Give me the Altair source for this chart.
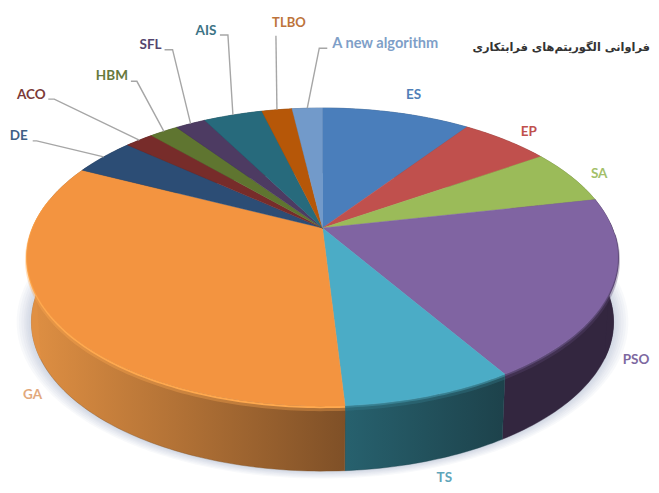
import math
import altair as alt

# ---- chart values (percent of the pie)
names = ["ES", "EP", "SA", "PSO", "TS", "GA", "DE", "ACO", "HBM", "SFL", "AIS", "TLBO", "A new algorithm"]
values = [9.8, 5.9, 6.0, 19.5, 7.8, 33.2, 4.1, 1.9, 1.9, 2.0, 3.9, 2.0, 2.0]
top_colors = ["#4a7ebb", "#c0504d", "#9bbb59", "#8064a2", "#4bacc6", "#f39440", "#2c4d75",
              "#772c2a", "#5f7530", "#4d3b62", "#276a7c", "#b65708", "#729aca"]
label_colors = ["#4f7fb8", "#c0504d", "#a3bf6a", "#7d68a0", "#5fa5ba", "#e2a87c", "#3f5f85",
                "#7c3a38", "#66793c", "#54456e", "#3c7385", "#bd733a", "#7f9fc8"]
side_left = ["#2f4f75", "#78312f", "#607437", "#33263f", "#27616e", "#e09043", "#1b3049",
             "#4a1b1a", "#3b491e", "#30253d", "#18424d", "#713605", "#47607e"]
side_right = ["#2f4f75", "#78312f", "#607437", "#33263f", "#1d424b", "#7f5027", "#1b3049",
              "#4a1b1a", "#3b491e", "#30253d", "#18424d", "#713605", "#47607e"]
rim_colors = {"PSO": "#5b4874", "TS": "#377f90", "GA": "#ffa94f"}

# ---- layout: offsets of each label / leader from the rim at the slice's middle
label_dx = [17, 23, 28, 25, 14, -20, -85, -108, -52, -40, -27, 12, 78]
label_dy = [-18, -8, -3, 71, 82, 77, -21, -45, -55, -79, -84, -87, -64]
label_size = [13.5, 13.5, 13.5, 13.5, 13.5, 13.5, 13.5, 13.5, 13.5, 13.5, 13.5, 13, 14.6]
leaders = {
    "DE": [(-67, -16), (-71, -16)],
    "ACO": [(-85, -41), (-91, -41)],
    "HBM": [(-27, -50), (-33, -50)],
    "SFL": [(-18, -74), (-26, -74)],
    "AIS": [(-5, -80), (-13, -80)],
    "TLBO": [(-1, -74)],
    "A new algorithm": [(12, -60), (20, -60)],
}
title_text = "فراوانی الگوریتم‌های فرابتکاری"

# ---- perspective disc
CX, CY, A, B, K = 322.5, 228.0, 289.8, 143.4, 0.195
DEPTH, SHRINK = 65.0, 0.985


def rim(deg):
    t = math.radians(deg)
    u, v = math.sin(t), math.cos(t)
    w = 1 + K * v
    return [CX + A * u / w, CY - B * v / w]


def low(deg, grow=0.0):
    x, y = rim(deg)
    return [CX + (x - CX) * (SHRINK + grow), y + DEPTH + (y - 257) * grow]


def arc(fn, a0, a1, **kw):
    n = max(2, int(abs(a1 - a0)) + 2)
    return [fn(a0 + (a1 - a0) * i / (n - 1), **kw) for i in range(n)]


edges = [0.0]
for val in values:
    edges.append(edges[-1] + val / sum(values) * 360)

proj = alt.Projection(type="identity", scale=1, translate=[-8, -8])


def polygon(coords):
    return {"type": "Feature", "properties": {},
            "geometry": {"type": "Polygon", "coordinates": [coords + [coords[0]]]}}


def line(coords):
    return {"type": "Feature", "properties": {},
            "geometry": {"type": "LineString", "coordinates": coords}}


def shape(feature, **mark):
    return alt.Chart(alt.Data(values=[feature])).mark_geoshape(**mark).project(**proj.to_dict())


layers = []

# soft shadow below the disc
for grow in [0.05, 0.042, 0.034, 0.026, 0.02, 0.014, 0.008]:
    layers.append(shape(polygon(arc(low, 0, 360, grow=grow)[:-1]),
                        fill="#9aa5c0", fillOpacity=0.07, strokeWidth=0, stroke="#ffffff", strokeOpacity=0))

# side walls
for i, name in enumerate(names):
    a0, a1 = edges[i], edges[i + 1]
    wall = arc(rim, a0, a1) + arc(low, a1, a0)
    grad = alt.LinearGradient(gradient="linear", x1=0, x2=1, y1=0, y2=0,
                              stops=[alt.GradientStop(offset=0, color=side_left[i]),
                                     alt.GradientStop(offset=1, color=side_right[i])])
    layers.append(shape(polygon(wall), fill=grad, stroke=side_right[i], strokeWidth=0.4))

# outline of the wall where the disc turns away, left and right
layers.append(shape(polygon(arc(rim, 272, 245) + arc(low, 245, 272)), fill=side_left[names.index("GA")],
                    stroke=side_left[names.index("GA")], strokeWidth=0.4))
layers.append(shape(polygon(arc(rim, 88, 115) + arc(low, 115, 88)), fill=side_left[names.index("PSO")],
                    stroke=side_left[names.index("PSO")], strokeWidth=0.4))

# bevel on the visible rim
for i, name in enumerate(names):
    if name in rim_colors:
        a0, a1 = max(edges[i], 92), min(edges[i + 1], 282)
        pts = arc(rim, a0, a1)
        layers.append(shape(line([[x, y + 3] for x, y in pts]), filled=False,
                            stroke=rim_colors[name], strokeWidth=4, strokeOpacity=0.35))
        layers.append(shape(line([[x, y + 1] for x, y in pts]), filled=False,
                            stroke=rim_colors[name], strokeWidth=2))

# top faces
for i, name in enumerate(names):
    face = [[CX, CY]] + arc(rim, edges[i], edges[i + 1])
    layers.append(shape(polygon(face), fill=top_colors[i], stroke=top_colors[i], strokeWidth=0.4))

# leader lines and labels
rows = []
for i, name in enumerate(names):
    mid = (edges[i] + edges[i + 1]) / 2
    x, y = rim(mid)
    if name in leaders:
        pts = [[x, y]] + [[x + dx, y + dy] for dx, dy in leaders[name]]
        layers.append(shape(line(pts), filled=False, stroke="#a6a6a6", strokeWidth=1.4))
    rows.append({"name": name, "lon": x + label_dx[i], "lat": y + label_dy[i],
                 "color": label_colors[i], "fs": label_size[i]})

layers.append(
    alt.Chart(alt.Data(values=rows))
    .mark_text(font="Lato", fontWeight="bold", align="center", baseline="middle")
    .encode(longitude="lon:Q", latitude="lat:Q", text="name:N",
            size=alt.Size("fs:Q", scale=None, legend=None),
            color=alt.Color("color:N", scale=None))
    .project(**proj.to_dict())
)

layers.append(
    alt.Chart(alt.Data(values=[{"t": title_text}]))
    .mark_text(font="DejaVu Sans", fontWeight="bold", fontSize=11.4, align="right",
               baseline="middle", color="#333333")
    .encode(x=alt.value(642), y=alt.value(40), text="t:N")
)

chart = (
    alt.layer(*layers)
    .properties(width=643, height=477, padding=0, background="#ffffff",
                autosize=alt.AutoSizeParams(type="none"))
    .configure_view(stroke=None)
)

chart.save("out.html", embed_options={"renderer": "svg", "actions": False})
